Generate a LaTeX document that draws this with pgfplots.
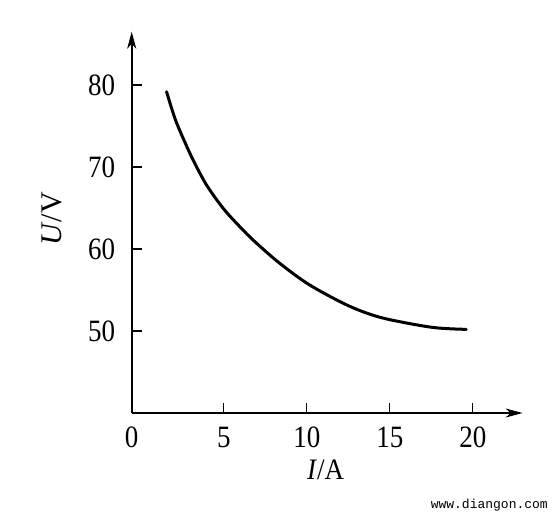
\documentclass[border=0pt]{standalone}
\usepackage{fontspec}
\setmainfont{Liberation Serif}
\newfontfamily\monofont{Liberation Mono}
\usepackage{pgfplots}
\pgfplotsset{compat=1.18}
\usetikzlibrary{arrows.meta}
\begin{document}
\begin{tikzpicture}
\useasboundingbox (0,0) rectangle (553pt,519pt);
\begin{axis}[
  at={(131.7pt,106pt)}, anchor=south west,
  x=16.6pt, y=8.2pt,
  xmin=-0.55, xmax=23, ymin=40, ymax=86.5,
  axis lines=left,
  axis line style={line width=1.6pt, -{Stealth[length=17pt,width=9pt,inset=5pt]}},
  xtick={-0.55,5,10,15,20}, xticklabels={0,5,10,15,20},
  ytick={50,60,70,80},
  tick align=inside,
  major tick length=10pt,
  tick style={line width=1.1pt, black},
  /pgf/number format/assume math mode=true,
  tick label style={font=\fontsize{27}{30}\selectfont, yscale=1.15, inner sep=0pt},
  xticklabel style={anchor=north, yshift=-12pt},
  yticklabel style={anchor=east, xshift=-16.5pt},
  xlabel={\textit{I}/A},
  ylabel={\textit{U}/V},
  xlabel style={font=\fontsize{27}{30}\selectfont, yscale=1.1, at={(axis description cs:0.496,-0.123)}, anchor=north, inner sep=0pt},
  ylabel style={font=\fontsize{30}{32}\selectfont, at={(axis description cs:-0.179,0.509)}, anchor=south, inner sep=0pt},
  clip=false,
]
\addplot[black, line width=3pt, smooth, line cap=round] coordinates {
  (1.55,79.18) (2.05,75.94) (2.55,73.5) (3.15,70.85) (3.96,67.8)
  (4.96,64.96) (5.96,62.72) (6.87,60.89) (8.37,58.25) (10.18,55.6)
  (12.54,53.05) (14.54,51.6) (17.53,50.45) (19.6,50.2)
};
\end{axis}
\node[anchor=east, inner sep=0pt, font=\monofont\fontsize{13}{14}\selectfont] at (548pt,14pt) {www.diangon.com};
\end{tikzpicture}
\end{document}
